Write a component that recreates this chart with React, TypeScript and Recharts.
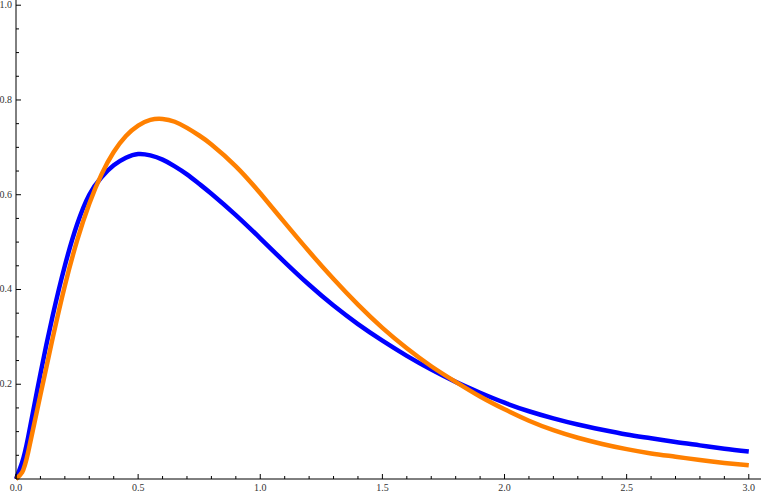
import { LineChart, Line, XAxis, YAxis } from "recharts";

const xValues = [
  0, 0.025, 0.05, 0.1, 0.15, 0.2, 0.25, 0.3, 0.35, 0.4, 0.45, 0.5, 0.55, 0.6,
  0.65, 0.7, 0.75, 0.8, 0.9, 1.0, 1.1, 1.2, 1.3, 1.4, 1.5, 1.6, 1.7, 1.8, 1.9,
  2.0, 2.1, 2.2, 2.3, 2.4, 2.5, 2.6, 2.7, 2.8, 2.9, 3.0,
];

const blueValues = [
  0, 0.035, 0.089, 0.222, 0.344, 0.45, 0.537, 0.6, 0.637, 0.662, 0.678,
  0.686, 0.683, 0.674, 0.66, 0.643, 0.623, 0.602, 0.557, 0.508, 0.458, 0.41,
  0.366, 0.327, 0.292, 0.26, 0.231, 0.205, 0.182, 0.161, 0.143, 0.128, 0.115,
  0.104, 0.094, 0.086, 0.078, 0.071, 0.064, 0.058,
];

const orangeValues = [
  0, 0.014, 0.057, 0.178, 0.297, 0.408, 0.503, 0.581, 0.643, 0.69, 0.724,
  0.746, 0.758, 0.76, 0.754, 0.741, 0.725, 0.706, 0.66, 0.603, 0.541, 0.48,
  0.422, 0.368, 0.319, 0.276, 0.238, 0.205, 0.174, 0.147, 0.123, 0.103, 0.087,
  0.074, 0.063, 0.054, 0.047, 0.04, 0.034, 0.029,
];

const xTicks = [
  0, 0.1, 0.2, 0.3, 0.4, 0.5, 0.6, 0.7, 0.8, 0.9, 1.0, 1.1, 1.2, 1.3, 1.4, 1.5,
  1.6, 1.7, 1.8, 1.9, 2.0, 2.1, 2.2, 2.3, 2.4, 2.5, 2.6, 2.7, 2.8, 2.9, 3.0,
];

const yTicks = [
  0.05, 0.1, 0.15, 0.2, 0.25, 0.3, 0.35, 0.4, 0.45, 0.5, 0.55, 0.6, 0.65, 0.7,
  0.75, 0.8, 0.85, 0.9, 0.95, 1.0,
];

const data = xValues.map((x, i) => ({
  x,
  blue: blueValues[i],
  orange: orangeValues[i],
}));

const W = 764;
const H = 494;
const AXIS_X = 16; // y axis position (left margin + y axis width)
const AXIS_Y = 479; // x axis position

const isMultiple = (v: number, step: number) =>
  Math.abs(v / step - Math.round(v / step)) < 1e-6;

const labelStyle = {
  fontFamily: "'Liberation Serif', serif",
  fontSize: 10,
  fill: "#333",
};

function XTick({ x, payload }: any) {
  const major = isMultiple(payload.value, 0.5);
  return (
    <g>
      <line
        x1={x}
        x2={x}
        y1={AXIS_Y}
        y2={AXIS_Y - (major ? 5 : 3)}
        stroke="#000"
        strokeWidth={1}
      />
      {major && (
        <text x={x} y={AXIS_Y + 12} textAnchor="middle" {...labelStyle}>
          {payload.value.toFixed(1)}
        </text>
      )}
    </g>
  );
}

function YTick({ y, payload }: any) {
  const major = isMultiple(payload.value, 0.2);
  return (
    <g>
      <line
        x1={AXIS_X}
        x2={AXIS_X + (major ? 5 : 3)}
        y1={y}
        y2={y}
        stroke="#000"
        strokeWidth={1}
      />
      {major && (
        <text x={AXIS_X - 4} y={y + 3} textAnchor="end" {...labelStyle}>
          {payload.value.toFixed(1)}
        </text>
      )}
    </g>
  );
}

export default function App() {
  return (
    <div style={{ position: "absolute", left: 0, top: 0, background: "#fff" }}>
      <LineChart
        width={W}
        height={H}
        data={data}
        margin={{ top: 0, right: 3, bottom: 0, left: 0 }}
      >
        <XAxis
          type="number"
          dataKey="x"
          domain={[0, 3.05]}
          ticks={xTicks}
          interval={0}
          height={15}
          axisLine={{ stroke: "#000" }}
          tickLine={false}
          tick={<XTick />}
        />
        <YAxis
          type="number"
          domain={[0, 1.011]}
          ticks={yTicks}
          interval={0}
          width={16}
          axisLine={{ stroke: "#000" }}
          tickLine={false}
          tick={<YTick />}
        />
        <Line
          type="natural"
          dataKey="blue"
          stroke="#0000ff"
          strokeWidth={4.5}
          dot={false}
          isAnimationActive={false}
        />
        <Line
          type="natural"
          dataKey="orange"
          stroke="#ff8000"
          strokeWidth={4.5}
          dot={false}
          isAnimationActive={false}
        />
      </LineChart>
    </div>
  );
}
